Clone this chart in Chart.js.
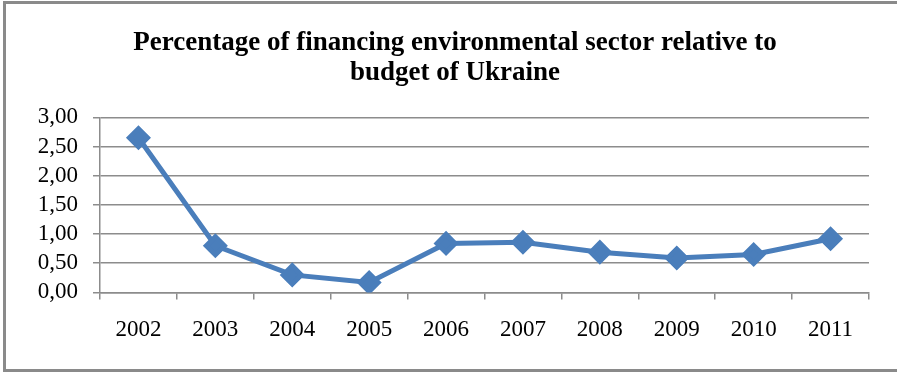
<!DOCTYPE html>
<html>
<head>
<meta charset="utf-8">
<script src="https://cdn.jsdelivr.net/npm/chart.js@4"></script>
<style>
    body { margin: 0; background: #fff; }
    #wrap { position: relative; width: 897px; height: 373px; }
    #frame {
        position: absolute; left: 3px; top: 1px; width: 900px; height: 371px;
        border: 3px solid #8a8a8a; pointer-events: none; box-sizing: border-box;
    }
</style>
</head>
<body>
<div id="wrap">
    <canvas id="chart" width="897" height="373"></canvas>
    <div id="frame"></div>
</div>
<script>
const years = ['2002', '2003', '2004', '2005', '2006', '2007', '2008', '2009', '2010', '2011'];
const percentOfBudget = [2.65, 0.80, 0.30, 0.17, 0.84, 0.86, 0.69, 0.59, 0.65, 0.92];
const titleLines = ['Percentage of financing environmental sector relative to', 'budget of Ukraine'];

const lineBlue = '#4a7ebb';
const gridGrey = '#8c8c8c';
const serif = "'Liberation Serif', 'Times New Roman', serif";

// comma as decimal separator on the value axis
function commaTick(value) {
    return value.toFixed(2).replace('.', ',');
}

// centre the title a little right of the canvas middle
const titleShift = {
    id: 'titleShift',
    afterLayout(chart) {
        chart.titleBlock.left += 41;
    }
};

const ctx = document.querySelector('#chart').getContext('2d');
new Chart(ctx, {
    type: 'line',
    data: {
        labels: years,
        datasets: [{
            data: percentOfBudget,
            borderColor: lineBlue,
            backgroundColor: lineBlue,
            borderWidth: 5,
            pointStyle: 'rectRot',
            pointRadius: 9,
            pointHoverRadius: 9,
            fill: false,
            tension: 0
        }]
    },
    plugins: [titleShift],
    options: {
        responsive: false,
        animation: false,
        layout: { padding: { left: 0, right: 28, top: 0, bottom: 12 } },
        plugins: {
            legend: { display: false },
            tooltip: { enabled: false },
            title: {
                display: true,
                text: titleLines,
                color: '#000',
                font: { family: serif, size: 27, weight: 'bold', lineHeight: 1.1 },
                padding: { top: 28, bottom: 30 }
            }
        },
        scales: {
            x: {
                offset: true,
                grid: {
                    offset: true,
                    drawOnChartArea: false,
                    drawTicks: true,
                    tickLength: 7,
                    color: gridGrey,
                    lineWidth: 1.5
                },
                border: { color: gridGrey, width: 1.5 },
                ticks: {
                    autoSkip: false,
                    maxRotation: 0,
                    color: '#000',
                    padding: 17,
                    font: { family: serif, size: 23 }
                }
            },
            y: {
                min: 0,
                max: 3,
                afterFit: scale => { scale.width = 100; },
                grid: {
                    color: gridGrey,
                    lineWidth: 1.5,
                    tickLength: 7
                },
                border: { color: gridGrey, width: 1.5 },
                ticks: {
                    stepSize: 0.5,
                    autoSkip: false,
                    color: '#000',
                    padding: 15,
                    font: { family: serif, size: 23 },
                    callback: commaTick
                }
            }
        }
    }
});
</script>
</body>
</html>
